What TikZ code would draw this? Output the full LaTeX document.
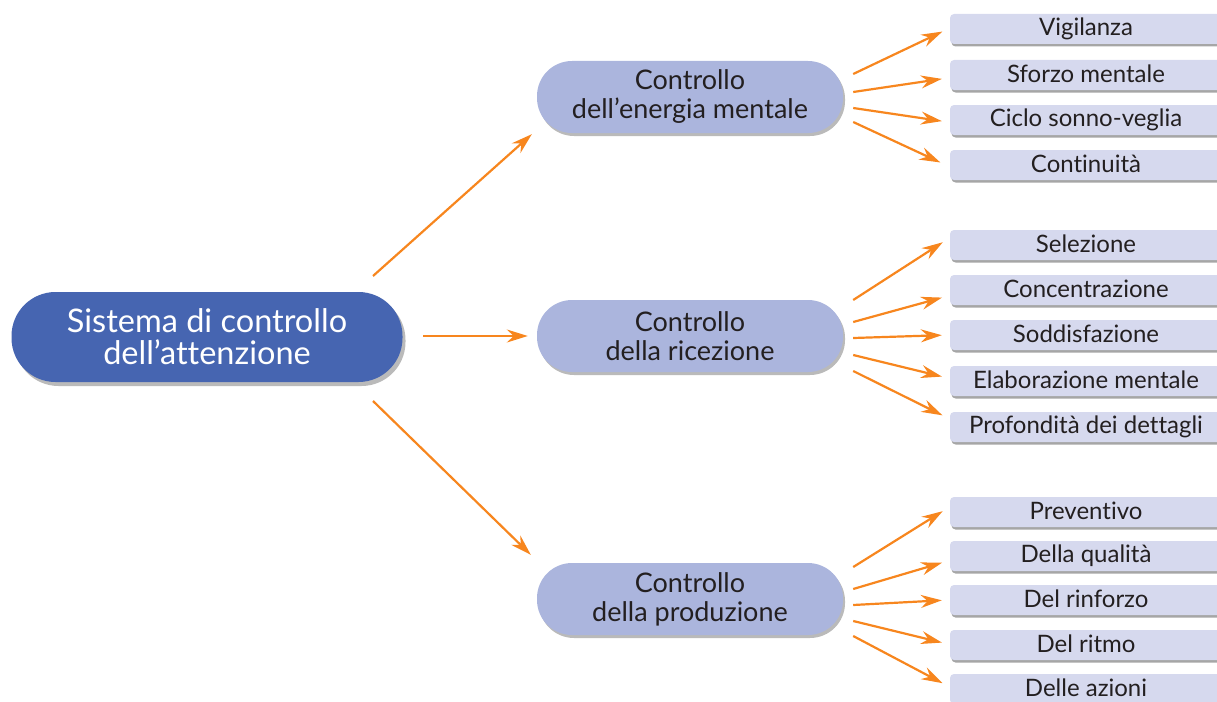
\documentclass[tikz,border=0pt]{standalone}
\usepackage{fontspec}
\setmainfont{Lato}[Ligatures={NoCommon}]
\usetikzlibrary{shadows,arrows.meta}
\definecolor{rootblue}{RGB}{70,101,177}
\definecolor{midlav}{RGB}{171,181,221}
\definecolor{leaflav}{RGB}{214,217,238}
\definecolor{arrorange}{RGB}{247,134,30}
\definecolor{inkdark}{RGB}{35,31,32}
\tikzset{
  rootbox/.style={fill=rootblue, text=white, rounded corners=44pt,
    minimum width=391pt, minimum height=90pt, align=center,
    font=\fontsize{32.5}{32}\selectfont,
    drop shadow={shadow xshift=3pt, shadow yshift=-4pt, fill=black!45, opacity=.6}},
  midbox/.style={fill=midlav, text=inkdark, rounded corners=35pt,
    minimum width=306pt, minimum height=72pt, align=center,
    font=\fontsize{27}{29}\selectfont,
    drop shadow={shadow xshift=2pt, shadow yshift=-3pt, fill=black!45, opacity=.6}},
  leafbox/.style={fill=leaflav, text=inkdark, rounded corners=4pt,
    minimum width=272pt, minimum height=30pt, inner sep=0pt,
    font=\fontsize{24}{26}\selectfont,
    drop shadow={shadow xshift=1.5pt, shadow yshift=-2.5pt, fill=black!50, opacity=.7}},
  arr/.style={draw=arrorange, line width=2.2pt,
    -{Stealth[length=21pt, width=13pt, inset=7pt]}, shorten >=6pt},
}
\begin{document}
\begin{tikzpicture}[x=1pt, y=-1pt]
\useasboundingbox (0,0) rectangle (1217,701);

% root and second-level nodes
\node[rootbox] (root) at (207,337) {Sistema di controllo\\dell’attenzione};
\node[midbox] (en) at (690,97) {Controllo\\dell’energia mentale};
\node[midbox] (ri) at (690,336) {Controllo\\della ricezione};
\node[midbox] (pr) at (690,599) {Controllo\\della produzione};

% leaves: energy
\node[leafbox] (l11) at (1086,29) {\raisebox{2pt}{Vigilanza}};
\node[leafbox] (l12) at (1086,75) {\raisebox{2pt}{Sforzo mentale}};
\node[leafbox] (l13) at (1086,120) {\raisebox{2pt}{Ciclo sonno-veglia}};
\node[leafbox] (l14) at (1086,165) {\raisebox{2pt}{Continuità}};
% leaves: reception
\node[leafbox] (l21) at (1086,245) {\raisebox{2pt}{Selezione}};
\node[leafbox] (l22) at (1086,290) {\raisebox{2pt}{Concentrazione}};
\node[leafbox] (l23) at (1086,335) {\raisebox{2pt}{Soddisfazione}};
\node[leafbox] (l24) at (1086,381) {\raisebox{2pt}{Elaborazione mentale}};
\node[leafbox] (l25) at (1086,427) {\raisebox{2pt}{Profondità dei dettagli}};
% leaves: production
\node[leafbox] (l31) at (1086,512) {\raisebox{2pt}{Preventivo}};
\node[leafbox] (l32) at (1086,556) {\raisebox{2pt}{Della qualità}};
\node[leafbox] (l33) at (1086,600) {\raisebox{2pt}{Del rinforzo}};
\node[leafbox] (l34) at (1086,645) {\raisebox{2pt}{Del ritmo}};
\node[leafbox] (l35) at (1086,689) {\raisebox{2pt}{Delle azioni}};

% root to second level
\coordinate (rA) at (373,276);
\coordinate (rB) at (423,336);
\coordinate (rC) at (373,401);
\draw[arr, shorten >=0pt] (rA) -- ([xshift=-5pt,yshift=-1pt]en.south west);
\draw[arr, shorten >=9pt] (rB) -- (ri.west);
\draw[arr, shorten >=0pt] (rC) -- ([xshift=-6pt,yshift=8pt]pr.north west);

% energy branches
\draw[arr] ([xshift=10pt,yshift=23pt]en.east) -- ([xshift=-2pt]l11.west);
\draw[arr] ([xshift=10pt,yshift=5pt]en.east) -- ([xshift=-2pt,yshift=-3pt]l12.west);
\draw[arr] ([xshift=10pt,yshift=-11pt]en.east) -- ([xshift=-2pt,yshift=-2pt]l13.west);
\draw[arr] ([xshift=10pt,yshift=-25pt]en.east) -- ([xshift=-4pt]l14.west);

% reception branches
\draw[arr] ([xshift=10pt,yshift=36pt]ri.east) -- ([xshift=-2pt,yshift=6pt]l21.west);
\draw[arr] ([xshift=10pt,yshift=14pt]ri.east) -- ([xshift=-2pt,yshift=-6pt]l22.west);
\draw[arr] ([xshift=10pt,yshift=-2pt]ri.east) -- ([xshift=-2pt]l23.west);
\draw[arr] ([xshift=10pt,yshift=-19pt]ri.east) -- ([xshift=-2pt,yshift=3pt]l24.west);
\draw[arr] ([xshift=10pt,yshift=-35pt]ri.east) -- ([xshift=-2pt,yshift=9pt]l25.west);

% production branches
\draw[arr] ([xshift=10pt,yshift=32pt]pr.east) -- ([xshift=-2pt,yshift=4pt]l31.west);
\draw[arr] ([xshift=10pt,yshift=10pt]pr.east) -- ([xshift=-2pt,yshift=-5pt]l32.west);
\draw[arr] ([xshift=10pt,yshift=-6pt]pr.east) -- ([xshift=-2pt]l33.west);
\draw[arr] ([xshift=10pt,yshift=-22pt]pr.east) -- ([xshift=-2pt,yshift=1pt]l34.west);
\draw[arr] ([xshift=10pt,yshift=-37pt]pr.east) -- ([xshift=-2pt,yshift=3pt]l35.west);
\end{tikzpicture}
\end{document}
